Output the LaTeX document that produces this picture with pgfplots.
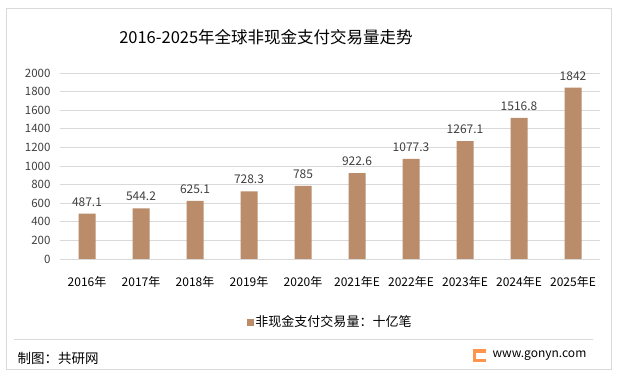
\documentclass[border=0pt]{standalone}
\usepackage{fontspec}
\setmainfont{Noto Sans CJK SC}
\usepackage{pgfplots}
\pgfplotsset{compat=1.18}
\definecolor{barc}{HTML}{BA8C6A}
\definecolor{gridc}{HTML}{D9D9D9}
\definecolor{txt}{HTML}{404040}
\begin{document}
\begin{tikzpicture}[x=1pt,y=1pt]
\useasboundingbox (0,0) rectangle (617,377);
\fill[white] (0,0) rectangle (617,377);
\draw[gridc, line width=0.8pt] (6,8) rectangle (611,369);
\draw[gridc, line width=0.8pt] (14,38) -- (593,38);
\node[anchor=center, font=\fontsize{16.5}{19}\selectfont, text=black] at (266,340) {2016-2025年全球非现金支付交易量走势};
\begin{axis}[
  at={(60pt,118pt)}, anchor=south west,
  width=540pt, height=186pt, scale only axis,
  xmin=-0.5, xmax=9.5, ymin=0, ymax=2000,
  ytick={0,200,...,2000},
  xtick={0,...,9},
  xticklabels={2016年,2017年,2018年,2019年,2020年,2021年E,2022年E,2023年E,2024年E,2025年E},
  ymajorgrids, grid style={gridc, line width=0.8pt},
  axis line style={draw=none},
  axis x line*=bottom,
  x axis line style={gridc, line width=0.8pt},
  axis y line*=left,
  y axis line style={draw=none},
  major tick length=0pt,
  tick label style={font=\fontsize{11.5}{13}\selectfont, text=txt},
  xticklabel style={font=\fontsize{12}{14}\selectfont, text=black, yshift=-14pt},
  yticklabel style={xshift=-6pt},
  /pgf/number format/assume math mode=true,
  /pgf/number format/1000 sep={},
  ybar, bar width=17pt,
  nodes near coords,
  nodes near coords style={font=\fontsize{12}{14}\selectfont, text=txt, yshift=4pt},
  point meta=explicit symbolic,
  legend style={at={(0.5,-0.28)}, anchor=north, draw=none, fill=none, font=\fontsize{13}{15}\selectfont, text=black, legend columns=1, /tikz/every even column/.append style={column sep=2pt}},
  legend image code/.code={\fill[barc] (0pt,-4pt) rectangle (7pt,3pt);},
]
\addplot[fill=barc, draw=none] coordinates {
(0,487.1) [487.1]
(1,544.2) [544.2]
(2,625.1) [625.1]
(3,728.3) [728.3]
(4,785) [785]
(5,922.6) [922.6]
(6,1077.3) [1077.3]
(7,1267.1) [1267.1]
(8,1516.8) [1516.8]
(9,1842) [1842]
};
\addlegendentry{非现金支付交易量：十亿笔}
\end{axis}
\node[anchor=west, font=\fontsize{13.5}{15}\selectfont, text=black] at (14,19) {制图：共研网};
\fill[orange!80!red!70] (473,15) rectangle (486,28);
\fill[white] (476,18.5) rectangle (486,24.5);
\node[anchor=west, font=\fontsize{12}{14}\selectfont, text=black] at (489,21) {www.gonyn.com};
\end{tikzpicture}
\end{document}
